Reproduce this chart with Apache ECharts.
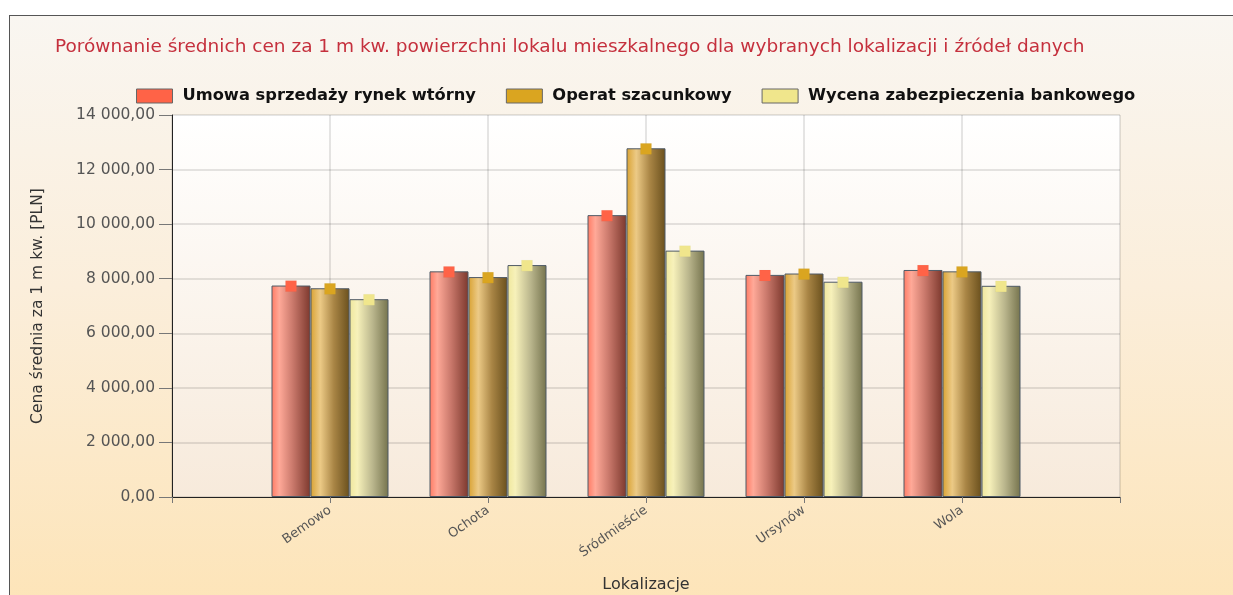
<!DOCTYPE html>
<html>
<head>
<meta charset="utf-8">
<script src="https://cdn.jsdelivr.net/npm/echarts@6/dist/echarts.min.js"></script>
<style>
  html, body { margin: 0; padding: 0; background: #fff; }
  .wrap { position: relative; width: 1233px; height: 595px; overflow: hidden; }
  .frame {
    position: absolute; left: 9px; top: 15px; width: 1240px; height: 600px;
    border: 1px solid #555;
    background: linear-gradient(to bottom, #f9f6f1 0%, #fbeedb 45%, #fde4b7 100%);
  }
  .chart { position: absolute; left: 0; top: 0; width: 1233px; height: 595px; }
</style>
</head>
<body>
<div class="wrap">
  <div class="frame"></div>
  <div class="chart" id="chart"></div>
</div>
<script>
// data
let categories = ['', 'Bemowo', 'Ochota', 'Śródmieście', 'Ursynów', 'Wola', '']
let seriesNames = ['Umowa sprzedaży rynek wtórny', 'Operat szacunkowy', 'Wycena zabezpieczenia bankowego']
let umowaValues = ['-', 7750, 8270, 10330, 8140, 8320, '-']
let operatValues = ['-', 7650, 8060, 12780, 8190, 8270, '-']
let wycenaValues = ['-', 7250, 8500, 9030, 7890, 7740, '-']
let yTicks = [0, 2000, 4000, 6000, 8000, 10000, 12000, 14000]

let baseColors = ['#ff6347', '#daa520', '#f0e68c']
let gradients = [
  [['#ff7a63', 0], ['#ffa998', 0.2], ['#c9786b', 0.55], ['#7c382d', 1]],
  [['#d9a232', 0], ['#ecca86', 0.25], ['#a98545', 0.6], ['#6a501d', 1]],
  [['#efe79c', 0], ['#f7f1ba', 0.2], ['#b9b58c', 0.6], ['#75734d', 1]]
]

function fmt (v) {
  let s = Math.round(v).toString().replace(/\B(?=(\d{3})+(?!\d))/g, ' ')
  return s + ',00'
}

let allValues = [umowaValues, operatValues, wycenaValues]
let series = []
allValues.forEach((vals, i) => {
  series.push({
    name: seriesNames[i],
    type: 'bar',
    data: vals,
    barWidth: 39,
    barGap: '0%',
    itemStyle: {
      color: {
        type: 'linear', x: 0, y: 0, x2: 1, y2: 0,
        colorStops: gradients[i].map(s => ({ color: s[0], offset: s[1] }))
      },
      borderColor: '#4f5a66',
      borderWidth: 1
    },
    emphasis: { disabled: true }
  })
})
allValues.forEach((vals, i) => {
  series.push({
    name: seriesNames[i] + ' marker',
    type: 'pictorialBar',
    data: vals,
    barWidth: 39,
    barGap: '0%',
    symbol: 'rect',
    symbolSize: [11, 11],
    symbolPosition: 'end',
    symbolOffset: [0, '-50%'],
    z: 5,
    itemStyle: {
      color: baseColors[i],
      borderColor: '#5a6570',
      borderWidth: 1.2
    },
    emphasis: { disabled: true }
  })
})

let option = {
  backgroundColor: 'transparent',
  animation: false,
  title: {
    text: 'Porównanie średnich cen za 1 m kw. powierzchni lokalu mieszkalnego dla wybranych lokalizacji i źródeł danych',
    left: 50,
    top: 33,
    textStyle: {
      color: '#c5303d',
      fontFamily: 'DejaVu Sans',
      fontSize: 18.5,
      fontWeight: 'normal'
    }
  },
  legend: {
    top: 88,
    left: 136,
    padding: 0,
    itemWidth: 36,
    itemHeight: 14,
    itemGap: 30,
    icon: 'rect',
    data: seriesNames.map((n, i) => ({
      name: n,
      itemStyle: { color: baseColors[i], borderColor: '#666', borderWidth: 1 }
    })),
    textStyle: {
      color: '#111',
      fontFamily: 'DejaVu Sans',
      fontSize: 16.3,
      fontWeight: 'bold',
      padding: [0, 0, 0, 5]
    }
  },
  grid: {
    show: true,
    left: 172,
    right: 113,
    top: 115,
    bottom: 98,
    outerBoundsMode: 'none',
    borderWidth: 0,
    backgroundColor: {
      type: 'linear', x: 0, y: 0, x2: 0, y2: 1,
      colorStops: [{ offset: 0, color: '#ffffff' }, { offset: 1, color: '#f7eadb' }]
    }
  },
  xAxis: {
    type: 'category',
    data: categories,
    boundaryGap: false,
    name: 'Lokalizacje',
    nameLocation: 'middle',
    nameGap: 80,
    nameTextStyle: { color: '#333', fontFamily: 'DejaVu Sans', fontSize: 16 },
    axisLine: { lineStyle: { color: '#222', width: 1 } },
    axisTick: { show: true, length: 6, lineStyle: { color: '#777' } },
    axisLabel: {
      rotate: 35,
      margin: 12,
      interval: 0,
      color: '#555',
      fontFamily: 'DejaVu Sans',
      fontSize: 13
    },
    splitLine: { show: true, lineStyle: { color: 'rgba(0,0,0,0.1)', width: 2 } }
  },
  yAxis: {
    type: 'value',
    min: yTicks[0],
    max: yTicks[yTicks.length - 1],
    interval: yTicks[1] - yTicks[0],
    name: 'Cena średnia za 1 m kw. [PLN]',
    nameLocation: 'middle',
    nameRotate: 90,
    nameGap: 126,
    nameTextStyle: { color: '#333', fontFamily: 'DejaVu Sans', fontSize: 15.5 },
    axisLine: { show: true, lineStyle: { color: '#222', width: 1 } },
    axisTick: { show: true, length: 13, lineStyle: { color: '#777' } },
    axisLabel: {
      margin: 17,
      color: '#555',
      fontFamily: 'DejaVu Sans',
      fontSize: 15.5,
      formatter: fmt
    },
    splitLine: { show: true, lineStyle: { color: 'rgba(0,0,0,0.1)', width: 2 } }
  },
  series: series
}

let chart = echarts.init(document.getElementById('chart'))
chart.setOption(option)
</script>
</body>
</html>
